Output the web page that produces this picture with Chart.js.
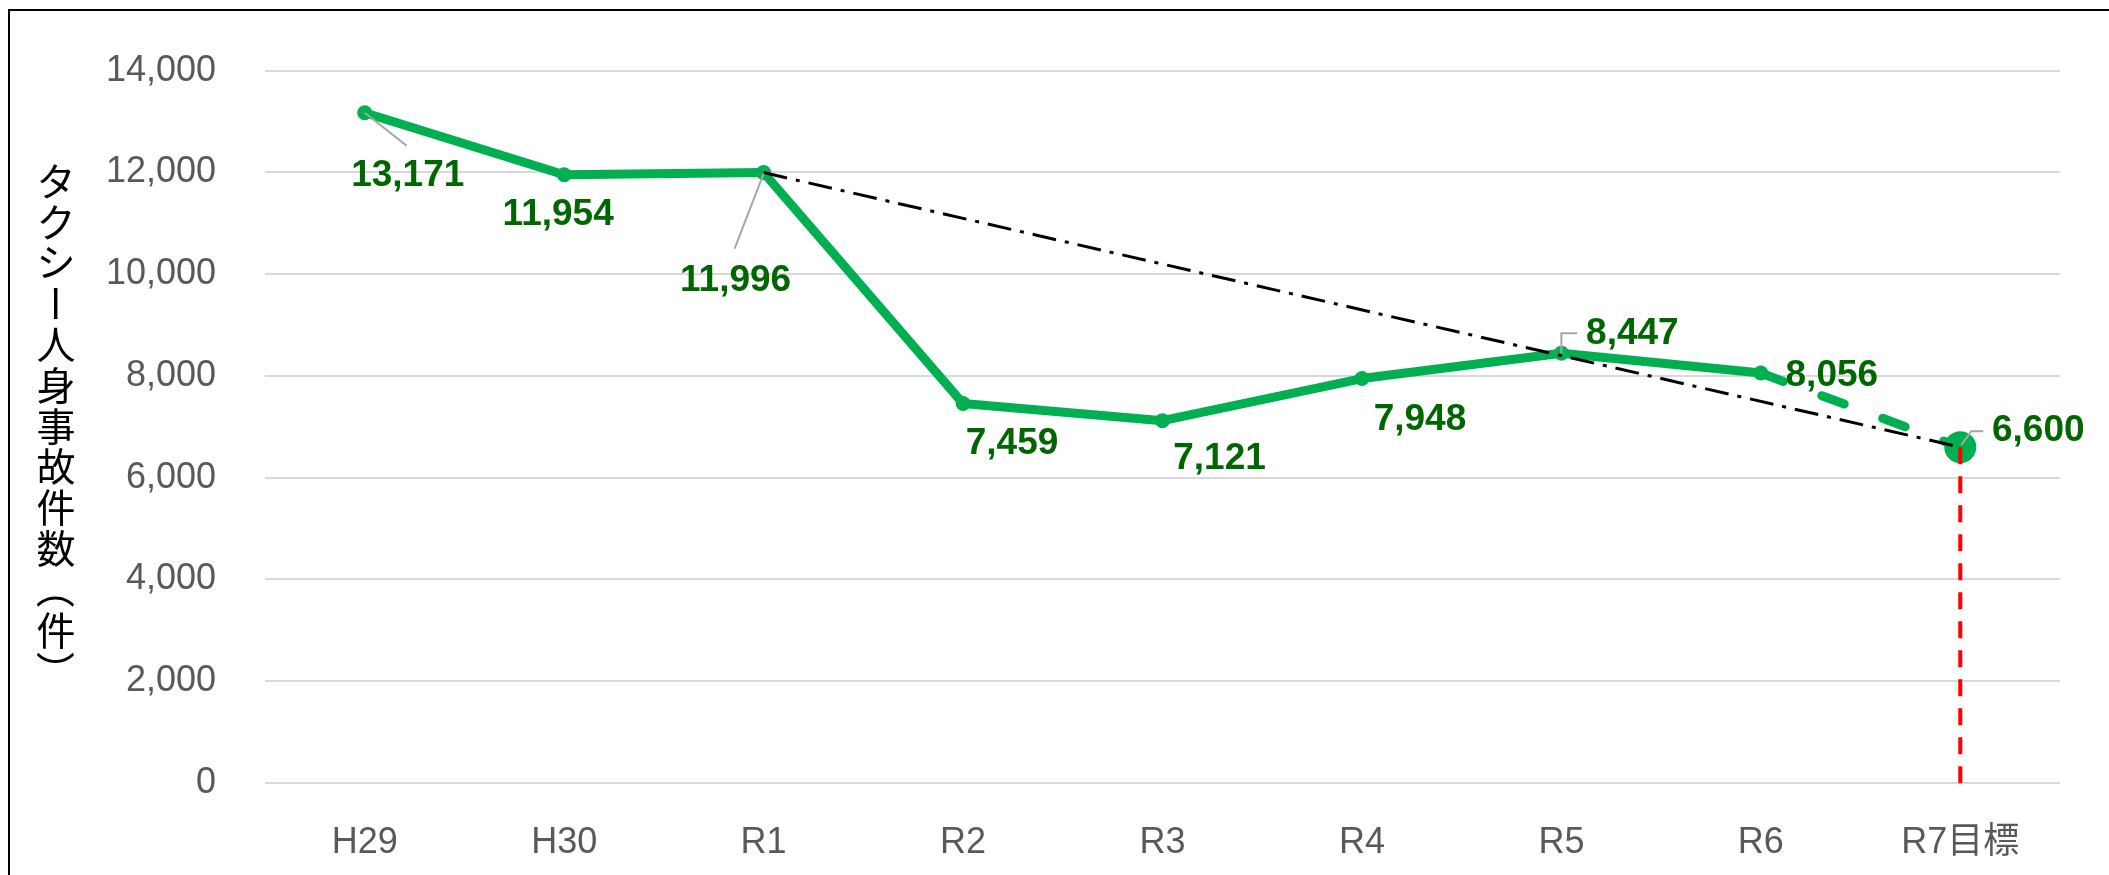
<!DOCTYPE html>
<html lang="ja">
<head>
  <meta charset="UTF-8">
  <title>タクシー人身事故件数</title>
  <style>
    html, body { margin: 0; padding: 0; background: #fff; }
    canvas { display: block; }
  </style>
</head>
<body>
<canvas id="myChart" width="2109" height="875"></canvas>
<script src="https://cdn.jsdelivr.net/npm/chart.js"></script>
<script>
  // data
  const categories = ['H29', 'H30', 'R1', 'R2', 'R3', 'R4', 'R5', 'R6', 'R7目標'];
  const accidents = [13171, 11954, 11996, 7459, 7121, 7948, 8447, 8056, 6600];
  const trend = [null, null, 11996, null, null, null, null, null, 6600];
  const yMin = 0;
  const yMax = 14000;
  const yStep = 2000;
  const axisTitle = 'タクシー人身事故件数（件）';

  const GREEN = '#00B050';
  const LABEL_GREEN = '#006600';
  const GREY = '#595959';

  // label offsets from the point (px), and leader lines (relative points)
  const labelOffsets = [[43, 63], [-6, 40], [-28, 108], [49, 40], [57, 38], [58, 41], [71, -19], [71, 3], [78, -16]];
  const leaders = {
    0: [[0, 0], [42, 33]],
    2: [[0, 1], [-29, 76]],
    6: [[0, 0], [0, -20], [16, -20]],
    8: [[1, -2], [11, -16], [23, -16]]
  };

  Chart.defaults.font.family = "'Liberation Sans', 'Noto Sans CJK JP', sans-serif";

  const framePlugin = {
    id: 'frame',
    beforeDraw(chart) {
      const ctx = chart.ctx;
      ctx.save();
      ctx.fillStyle = '#fff';
      ctx.fillRect(0, 0, chart.width, chart.height);
      ctx.strokeStyle = '#000';
      ctx.lineWidth = 2;
      ctx.strokeRect(9, 10, chart.width + 20, chart.height + 20);
      // vertical axis title, written top to bottom
      ctx.fillStyle = '#000';
      ctx.font = "39px 'Noto Sans CJK JP'";
      ctx.textAlign = 'center';
      ctx.textBaseline = 'middle';
      Array.from(axisTitle).forEach((c, i) => {
        ctx.save();
        ctx.translate(56, 181 + i * 40.8);
        if ('ー（）'.includes(c)) ctx.rotate(Math.PI / 2);
        ctx.fillText(c, 0, 0);
        ctx.restore();
      });
      ctx.restore();
    }
  };

  const extrasPlugin = {
    id: 'extras',
    afterDatasetsDraw(chart) {
      const ctx = chart.ctx;
      const xs = chart.scales.x, ys = chart.scales.y;
      const last = accidents.length - 1;
      // red dashed target line
      ctx.save();
      ctx.strokeStyle = '#FF0000';
      ctx.lineWidth = 4;
      ctx.setLineDash([17, 12]);
      ctx.beginPath();
      ctx.moveTo(xs.getPixelForValue(last), ys.getPixelForValue(accidents[last]));
      ctx.lineTo(xs.getPixelForValue(last), chart.chartArea.bottom + 11);
      ctx.stroke();
      ctx.restore();

      // data labels + leader lines
      const meta = chart.getDatasetMeta(1);
      ctx.save();
      meta.data.forEach((pt, i) => {
        if (leaders[i]) {
          ctx.strokeStyle = '#A6A6A6';
          ctx.lineWidth = 2;
          ctx.beginPath();
          leaders[i].forEach(([dx, dy], k) => {
            if (k === 0) ctx.moveTo(pt.x + dx, pt.y + dy);
            else ctx.lineTo(pt.x + dx, pt.y + dy);
          });
          ctx.stroke();
        }
        ctx.fillStyle = LABEL_GREEN;
        ctx.font = "bold 37px 'Liberation Sans'";
        ctx.textAlign = 'center';
        ctx.textBaseline = 'middle';
        const [dx, dy] = labelOffsets[i];
        ctx.fillText(accidents[i].toLocaleString('en-US'), pt.x + dx, pt.y + dy);
      });
      ctx.restore();
    }
  };

  const ctx = document.getElementById('myChart');
  new Chart(ctx, {
    type: 'line',
    data: {
      labels: categories,
      datasets: [{
        label: 'trend',
        data: trend,
        spanGaps: true,
        borderColor: '#000',
        borderWidth: 3,
        borderDash: [24, 9, 4, 9],
        pointRadius: 0,
        order: 0
      }, {
        label: 'タクシー人身事故件数',
        data: accidents,
        borderColor: GREEN,
        backgroundColor: GREEN,
        borderWidth: 9,
        borderJoinStyle: 'round',
        borderCapStyle: 'round',
        pointRadius: [7.5, 7.5, 7.5, 7.5, 7.5, 7.5, 7.5, 7.5, 16],
        pointBackgroundColor: GREEN,
        pointBorderWidth: 0,
        segment: {
          borderDash: c => c.p1DataIndex === accidents.length - 1 ? [24, 41] : undefined
        },
        order: 1
      }]
    },
    options: {
      responsive: false,
      devicePixelRatio: 1,
      animation: false,
      layout: { padding: { top: 65, right: 49, left: 0, bottom: 0 } },
      plugins: {
        legend: { display: false },
        tooltip: { enabled: false }
      },
      scales: {
        x: {
          offset: true,
          grid: { display: false },
          border: { display: false },
          ticks: { color: GREY, font: { size: 36 }, padding: 30 },
          afterFit(s) { s.height = 92; }
        },
        y: {
          min: yMin,
          max: yMax,
          grid: { color: '#D9D9D9', lineWidth: 2, drawTicks: false },
          border: { display: false },
          ticks: {
            stepSize: yStep,
            color: GREY,
            font: { size: 36 },
            padding: 49,
            callback: v => v.toLocaleString('en-US')
          },
          afterFit(s) { s.width = 265; }
        }
      }
    },
    plugins: [framePlugin, extrasPlugin]
  });
</script>
</body>
</html>
